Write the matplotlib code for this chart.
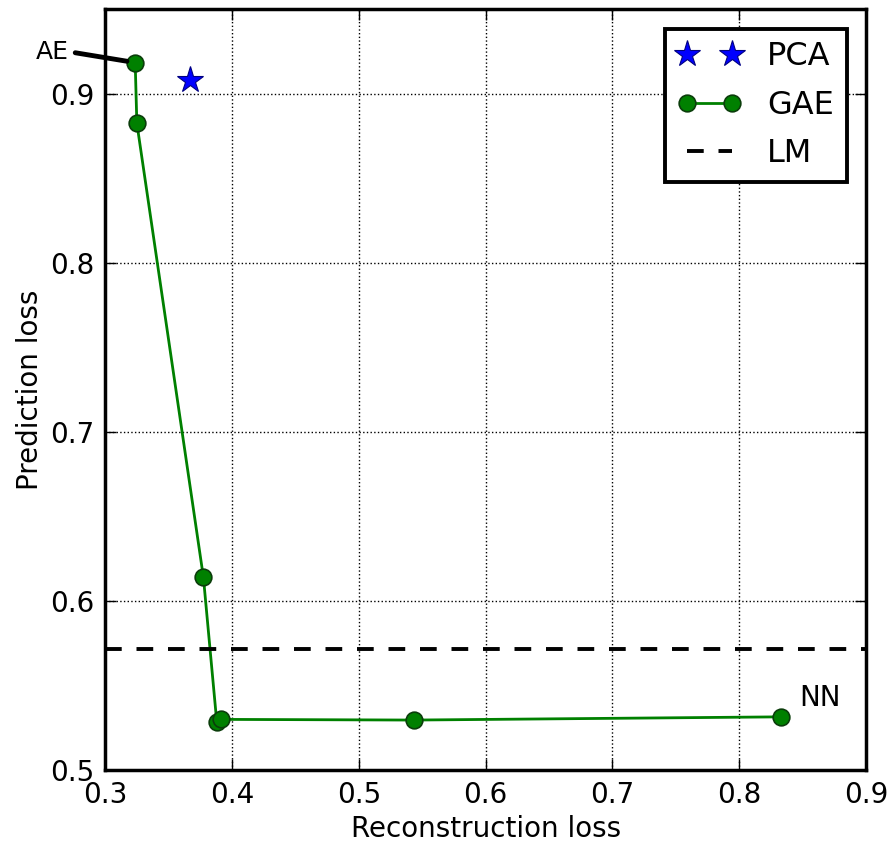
import matplotlib
matplotlib.use("Agg")
import matplotlib.pyplot as plt

# reconstruction / prediction loss trade-off
gae_recon = [0.3237, 0.325, 0.3775, 0.388, 0.3912, 0.5432, 0.8329]
gae_pred = [0.9185, 0.8827, 0.614, 0.5286, 0.530, 0.5296, 0.5315]

pca_recon = [0.367]
pca_pred = [0.908]

lm_pred = 0.5714

fig = plt.figure(figsize=(8.91, 8.5), dpi=100)
ax = fig.add_axes([0.118, 0.094, 0.854, 0.895])

ax.plot(pca_recon, pca_pred, linestyle='none', marker='*', color='blue',
        markersize=20, markeredgecolor='navy', markeredgewidth=0.8, label='PCA')
ax.plot(gae_recon, gae_pred, linestyle='-', color='green', linewidth=2,
        marker='o', markersize=12, markerfacecolor='green',
        markeredgecolor='#0b3d0b', markeredgewidth=1.2, label='GAE')
ax.axhline(lm_pred, color='black', linestyle='--', linewidth=2.8,
           dashes=(4.3, 3.8), label='LM')

# end point labels
ax.annotate('AE', xy=(gae_recon[0], gae_pred[0]), xytext=(0.258, 0.925),
            fontsize=18, ha='center', va='center', annotation_clip=False,
            arrowprops=dict(arrowstyle='-', color='black', linewidth=3.5,
                            relpos=(1, 0.5), shrinkA=3, shrinkB=6))
ax.text(gae_recon[-1] + 0.031, gae_pred[-1] + 0.011, 'NN', fontsize=20,
        ha='center', va='center')

ax.set_xlim(0.3, 0.9)
ax.set_ylim(0.5, 0.95)
ax.set_xticks([0.3, 0.4, 0.5, 0.6, 0.7, 0.8, 0.9])
ax.set_yticks([0.5, 0.6, 0.7, 0.8, 0.9])

ax.grid(True, color='black', linestyle=':', linewidth=1)
ax.tick_params(direction='in', length=8, width=1, labelsize=20,
               top=True, right=True, pad=8)
for s in ax.spines.values():
    s.set_linewidth(2.5)

ax.set_xlabel('Reconstruction loss', fontsize=20)
ax.set_ylabel('Prediction loss', fontsize=20)

leg = ax.legend(loc='upper right', numpoints=2, fontsize=23, fancybox=False,
                framealpha=1, edgecolor='black', handlelength=2.0,
                borderpad=0.4, labelspacing=0.55, borderaxespad=0.6)
leg.get_frame().set_linewidth(2.8)

fig.savefig('out.png', dpi=100)
